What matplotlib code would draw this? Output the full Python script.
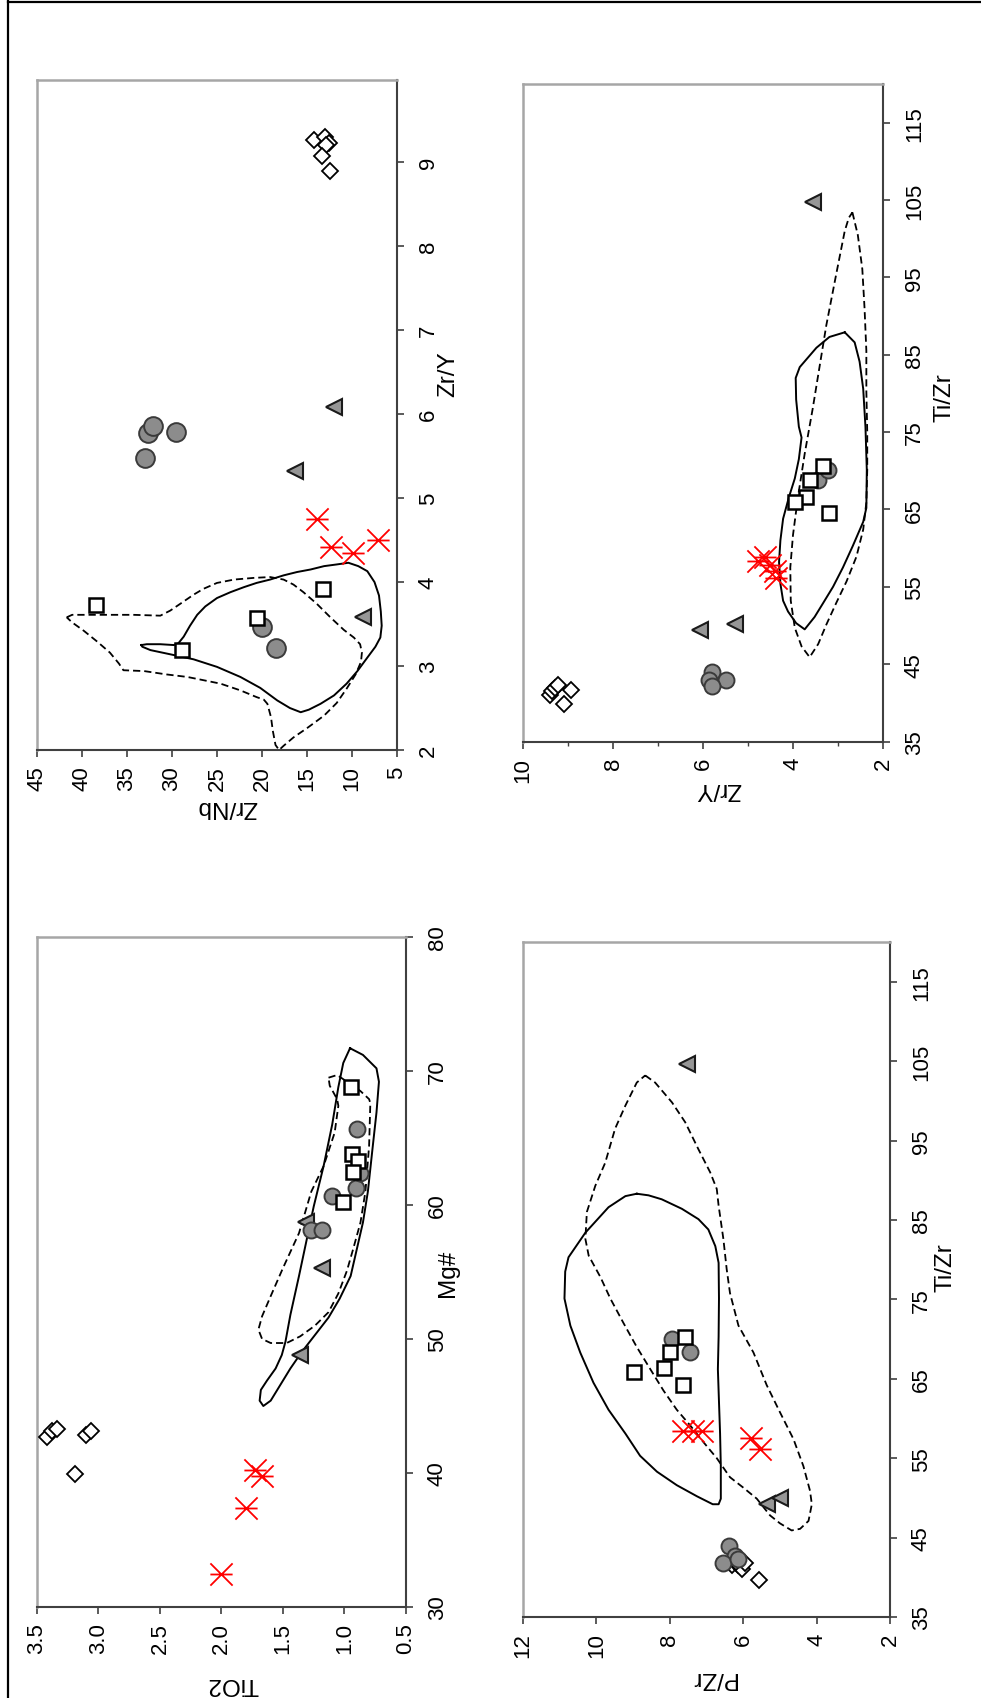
import matplotlib
matplotlib.use('Agg')
import matplotlib.pyplot as plt
from matplotlib.path import Path
from matplotlib.lines import Line2D

plt.rcParams['font.family'] = ['Liberation Sans Narrow', 'Liberation Sans', 'DejaVu Sans']

# ---------------- DATA ----------------
# Panel A : Zr/Nb vs Zr/Y
a_circ_zrnb = [33.0, 32.7, 32.1, 29.6, 20.0, 18.4]
a_circ_zry = [5.48, 5.77, 5.86, 5.79, 3.46, 3.21]
a_tri_zrnb = [12.0, 16.3, 8.8]
a_tri_zry = [6.08, 5.32, 3.58]
a_sq_zrnb = [38.4, 28.9, 20.6, 13.2]
a_sq_zry = [3.73, 3.19, 3.57, 3.92]
a_dia_zrnb = [14.2, 13.0, 12.6, 12.9, 13.3, 12.5]
a_dia_zry = [9.27, 9.30, 9.23, 9.20, 9.08, 8.90]
a_ast_zrnb = [13.9, 12.3, 9.9, 7.1]
a_ast_zry = [4.75, 4.42, 4.35, 4.50]
a_solid_zrnb = [33.4, 32.8, 31.3, 29.8, 29.3, 28.7, 28.0, 27.2, 26.3, 25.0, 23.5, 22.0, 20.6, 19.1,
                17.6, 16.1, 14.6, 13.1, 11.7, 10.4, 9.3, 8.3, 7.5, 7.0, 6.8, 6.7, 6.85, 7.4, 8.3,
                9.4, 10.6, 12.0, 13.5, 14.8, 15.7, 16.9, 18.3, 20.2, 22.4, 25.0, 27.6, 30.2, 32.4, 33.3]
a_solid_zry = [3.25, 3.26, 3.26, 3.25, 3.27, 3.35, 3.48, 3.61, 3.71, 3.81, 3.88, 3.94, 3.99, 4.03,
               4.08, 4.12, 4.15, 4.19, 4.21, 4.23, 4.19, 4.13, 4.00, 3.84, 3.65, 3.48, 3.34, 3.23, 3.10,
               2.94, 2.79, 2.65, 2.55, 2.48, 2.45, 2.50, 2.59, 2.74, 2.87, 2.99, 3.08, 3.14, 3.19, 3.23]
a_dash_zrnb = [41.7, 41.1, 38.0, 34.3, 31.3, 30.2, 29.1, 27.6, 26.5, 25.0, 23.1, 20.9, 19.1, 17.6,
               16.5, 15.4, 13.9, 12.4, 10.9, 9.8, 9.1, 8.9, 9.0, 9.6, 10.6, 11.7, 13.1, 15.0, 16.5,
               17.6, 18.1, 18.5, 18.8, 19.0, 19.4, 19.8, 20.6, 22.4, 24.6, 26.9, 28.3, 30.6, 33.1,
               35.4, 35.9, 36.9, 38.3, 39.8, 41.1]
a_dash_zry = [3.58, 3.61, 3.61, 3.61, 3.60, 3.66, 3.74, 3.85, 3.92, 3.99, 4.03, 4.05, 4.06, 4.03,
              3.97, 3.88, 3.74, 3.58, 3.43, 3.34, 3.26, 3.16, 3.05, 2.90, 2.73, 2.56, 2.41, 2.26, 2.15,
              2.05, 2.00, 2.06, 2.23, 2.39, 2.55, 2.60, 2.63, 2.71, 2.79, 2.84, 2.87, 2.90, 2.94,
              2.95, 3.03, 3.16, 3.29, 3.42, 3.52]

# Panel B : Zr/Y vs Ti/Zr
b_circ_zry = [5.79, 5.48, 5.87, 5.79, 3.44, 3.22]
b_circ_tizr = [44.0, 42.9, 42.9, 42.2, 68.8, 70.1]
b_tri_zry = [6.07, 5.30, 3.56]
b_tri_tizr = [49.4, 50.2, 104.7]
b_sq_zry = [3.19, 3.33, 3.63, 3.72, 3.96]
b_sq_tizr = [64.5, 70.6, 68.8, 66.6, 66.0]
b_dia_zry = [9.41, 9.35, 9.29, 9.22, 8.93, 9.10]
b_dia_tizr = [41.0, 41.5, 41.9, 42.3, 41.7, 39.8]
b_ast_zry = [4.78, 4.63, 4.52, 4.41, 4.37]
b_ast_tizr = [58.3, 58.9, 57.8, 57.1, 56.1]
b_solid_zry = [2.85, 2.63, 2.52, 2.44, 2.39, 2.36, 2.37, 2.44, 2.67, 2.89, 3.11, 3.33, 3.52, 3.74,
               3.93, 4.11, 4.22, 4.28, 4.31, 4.28, 4.22, 4.09, 3.96, 3.87, 3.81, 3.87, 3.93, 3.94,
               3.85, 3.48, 3.19]
b_solid_tizr = [87.9, 86.6, 84.1, 80.6, 75.7, 70.1, 65.2, 63.4, 60.3, 57.5, 55.0, 52.9, 51.1, 49.5,
                50.3, 51.8, 53.2, 55.4, 58.2, 61.0, 63.8, 66.6, 69.0, 71.5, 74.3, 75.7, 79.2, 82.0,
                83.4, 85.9, 87.3]
b_dash_zry = [2.68, 2.56, 2.46, 2.41, 2.37, 2.37, 2.35, 2.35, 2.37, 2.44, 2.59, 2.81, 3.04, 3.26,
              3.44, 3.63, 3.81, 3.96, 4.05, 4.06, 4.00, 3.89, 3.74, 3.56, 3.26, 3.04, 2.85, 2.76]
b_dash_tizr = [103.4, 100.5, 96.1, 91.0, 85.5, 80.3, 75.0, 70.1, 65.9, 62.4, 58.9, 55.7, 52.9, 50.1,
               47.6, 45.9, 47.3, 49.7, 53.2, 57.5, 61.7, 66.6, 72.2, 78.1, 88.8, 95.4, 101.0, 102.7]

# Panel C : TiO2 vs Mg#
c_circ_tio2 = [0.90, 1.10, 0.91, 0.87, 1.27, 1.18]
c_circ_mg = [65.7, 60.7, 61.3, 62.4, 58.1, 58.1]
c_tri_tio2 = [1.31, 1.18, 1.36]
c_tri_mg = [58.7, 55.3, 48.8]
c_sq_tio2 = [0.95, 0.94, 0.89, 0.93, 1.01]
c_sq_mg = [68.8, 63.8, 63.3, 62.5, 60.2]
c_dia_tio2 = [3.42, 3.38, 3.34, 3.10, 3.06, 3.19]
c_dia_mg = [42.7, 43.1, 43.3, 42.8, 43.1, 39.9]
c_ast_tio2 = [2.00, 1.80, 1.73, 1.67]
c_ast_mg = [32.5, 37.4, 40.2, 39.8]
c_solid_tio2 = [0.955, 0.85, 0.74, 0.72, 0.74, 0.77, 0.81, 0.85, 0.90, 0.95, 1.04, 1.13, 1.24, 1.35,
                1.44, 1.52, 1.60, 1.66, 1.69, 1.68, 1.63, 1.56, 1.51, 1.48, 1.44, 1.37, 1.31, 1.25,
                1.17, 1.10, 1.05, 1.01]
c_solid_mg = [71.7, 71.2, 70.2, 69.2, 66.9, 64.4, 61.0, 58.7, 56.7, 54.7, 53.0, 51.6, 50.3, 49.0,
              47.8, 46.6, 45.4, 45.0, 45.4, 46.2, 46.9, 47.8, 48.8, 49.8, 51.8, 54.7, 57.3, 59.9,
              62.9, 66.0, 68.8, 70.6]
c_dash_tio2 = [1.13, 1.06, 0.98, 0.87, 0.80, 0.79, 0.80, 0.83, 0.87, 0.93, 0.98, 1.05, 1.13, 1.24,
               1.36, 1.47, 1.60, 1.67, 1.70, 1.67, 1.60, 1.50, 1.37, 1.27, 1.17, 1.08, 1.05, 1.06, 1.12]
c_dash_mg = [69.5, 69.7, 69.2, 68.5, 67.9, 67.6, 64.4, 61.0, 58.7, 56.7, 55.1, 53.4, 52.0, 51.0,
             50.2, 49.7, 49.7, 50.0, 50.7, 51.7, 53.2, 55.3, 57.9, 61.0, 62.9, 65.4, 67.4, 67.9, 68.9]

# Panel D : P/Zr vs Ti/Zr
d_circ_pzr = [7.94, 7.46, 6.40, 6.22, 6.54, 6.15]
d_circ_tizr = [70.0, 68.4, 43.9, 42.7, 41.8, 42.3]
d_tri_pzr = [7.54, 5.34, 5.00]
d_tri_tizr = [104.6, 49.2, 50.0]
d_sq_pzr = [8.97, 8.15, 7.99, 7.58, 7.64]
d_sq_tizr = [65.9, 66.4, 68.4, 70.3, 64.2]
d_dia_pzr = [6.31, 6.13, 6.04, 5.95, 6.20, 5.56]
d_dia_tizr = [41.5, 41.5, 41.1, 41.8, 41.9, 39.6]
d_ast_pzr = [7.64, 7.37, 7.13, 5.78, 5.54]
d_ast_tizr = [58.4, 58.4, 58.4, 57.6, 56.1]
d_solid_pzr = [8.90, 8.58, 8.22, 7.67, 7.22, 6.95, 6.76, 6.67, 6.66, 6.67, 6.69, 6.66, 6.63, 6.61,
               6.61, 6.67, 6.83, 7.26, 7.81, 8.35, 8.81, 9.21, 9.67, 10.08, 10.44, 10.71, 10.87,
               10.85, 10.76, 10.30, 9.67, 9.21]
d_solid_tizr = [88.3, 88.1, 87.6, 86.4, 85.1, 83.8, 81.7, 79.6, 75.1, 70.3, 66.2, 62.1, 58.1, 54.0,
                49.9, 49.2, 49.2, 50.2, 51.6, 53.3, 55.3, 58.1, 61.1, 64.5, 68.3, 71.7, 75.1,
                78.5, 80.3, 83.4, 86.6, 88.0]
d_dash_pzr = [8.67, 8.40, 7.94, 7.58, 7.22, 6.90, 6.72, 6.67, 6.54, 6.45, 6.36, 6.13, 5.72, 5.36,
              5.00, 4.63, 4.36, 4.18, 4.13, 4.22, 4.45, 4.68, 5.00, 5.27, 5.63, 6.00, 6.36, 6.72,
              7.08, 7.44, 7.81, 8.17, 8.53, 8.90, 9.26, 9.62, 9.89, 10.21, 10.30, 10.26, 10.03,
              9.76, 9.49, 9.21, 8.90]
d_dash_tizr = [103.2, 102.3, 99.8, 97.3, 93.9, 91.0, 88.9, 86.8, 82.6, 78.8, 75.8, 71.7, 68.3, 64.2,
               60.8, 57.4, 54.0, 50.9, 49.2, 47.1, 46.1, 45.9, 46.8, 47.8, 49.9, 51.3, 52.6, 55.0,
               57.0, 59.1, 61.1, 63.5, 66.2, 69.0, 72.0, 75.1, 77.8, 80.5, 82.6, 86.0, 89.3,
               92.2, 96.5, 99.4, 102.3]

# tick labels
zrnb_ticks = [45, 40, 35, 30, 25, 20, 15, 10, 5]
zry_ticks_a = [2, 3, 4, 5, 6, 7, 8, 9]
zry_ticks_b = [10, 8, 6, 4, 2]
tizr_ticks = [35, 45, 55, 65, 75, 85, 95, 105, 115]
tio2_ticks = [3.5, 3.0, 2.5, 2.0, 1.5, 1.0, 0.5]
mg_ticks = [30, 40, 50, 60, 70, 80]
pzr_ticks = [12, 10, 8, 6, 4, 2]

# ---------------- FIGURE ----------------
W, H = 981, 1699
fig = plt.figure(figsize=(W / 100, H / 100), dpi=100)
fig.patch.set_facecolor('white')

def px_axes(x0, y0, x1, y1):
    return fig.add_axes([x0 / W, 1 - y1 / H, (x1 - x0) / W, (y1 - y0) / H])

ast_path = Path([(-0.5, -0.5), (0.5, 0.5), (-0.5, 0.5), (0.5, -0.5), (-0.5, 0.0), (0.5, 0.0)],
                [Path.MOVETO, Path.LINETO, Path.MOVETO, Path.LINETO, Path.MOVETO, Path.LINETO])

TICK_FS = 16
LAB_FS = 17.5
DARK = '#404040'

def style(ax, xlim, ylim, xt, xl, yt, yl, xlabel, ylabel, xlc, ylc, xminor=None):
    ax.set_xlim(*xlim)
    ax.set_ylim(*ylim)
    ax.yaxis.tick_right()
    ax.yaxis.set_label_position('right')
    ax.set_xticks(xt)
    ax.set_xticklabels(xl, rotation=90, ha='center', va='top', fontsize=TICK_FS)
    ax.set_yticks(yt)
    ax.set_yticklabels(yl, rotation=90, ha='left', va='center', fontsize=TICK_FS)
    if xminor is not None:
        ax.set_xticks(xminor, minor=True)
    ax.tick_params(axis='both', which='major', direction='out', length=5, width=1.2, color=DARK)
    ax.tick_params(axis='x', which='minor', direction='out', length=3, width=1.0, color=DARK)
    ax.tick_params(axis='x', pad=6)
    ax.tick_params(axis='y', pad=10)
    for s in ['bottom', 'right']:
        ax.spines[s].set_color(DARK)
        ax.spines[s].set_linewidth(1.5)
    for s in ['top', 'left']:
        ax.spines[s].set_color('#a6a6a6')
        ax.spines[s].set_linewidth(1.8)
    ax.set_xlabel(xlabel, rotation=180, ha='center', va='center', fontsize=LAB_FS)
    ax.xaxis.set_label_coords(*xlc)
    ax.set_ylabel(ylabel, rotation=90, ha='center', va='center', fontsize=LAB_FS)
    ax.yaxis.set_label_coords(*ylc)

def contours(ax, sx, sy, dx, dy):
    ax.plot(list(sx) + [sx[0]], list(sy) + [sy[0]], color='black', lw=1.4, zorder=2)
    ax.plot(list(dx) + [dx[0]], list(dy) + [dy[0]], color='black', lw=1.3,
            linestyle=(0, (4, 2.2)), zorder=2)

def points(ax, dia, ast, tri, circ, sq, circ_ms=11.5):
    ax.plot(*dia, linestyle='none', marker='D', ms=8, mfc='white', mec='black', mew=1.3, zorder=3)
    ax.plot(*ast, linestyle='none', marker=ast_path, ms=16, mfc='none', mec='#ff0000', mew=1.3, zorder=4)
    ax.plot(*tri, linestyle='none', marker='<', ms=12, mfc='#969696', mec='#1a1a1a', mew=1.5, zorder=5)
    ax.plot(*circ, linestyle='none', marker='o', ms=circ_ms, mfc='#8c8c8c', mec='#3a3a3a', mew=1.4, zorder=6)
    ax.plot(*sq, linestyle='none', marker='s', ms=10, mfc='white', mec='black', mew=1.8, zorder=7)

# Panel A (display top-left)
axA = px_axes(37, 81, 397, 751)
contours(axA, a_solid_zrnb, a_solid_zry, a_dash_zrnb, a_dash_zry)
points(axA, (a_dia_zrnb, a_dia_zry), (a_ast_zrnb, a_ast_zry), (a_tri_zrnb, a_tri_zry),
       (a_circ_zrnb, a_circ_zry), (a_sq_zrnb, a_sq_zry), circ_ms=13.5)
style(axA, (45, 5), (2, 9.98), zrnb_ticks, [str(v) for v in zrnb_ticks],
      zry_ticks_a, [str(v) for v in zry_ticks_a], 'Zr/Nb', 'Zr/Y',
      (0.528, -0.083), (1.142, 0.563))

# Panel B (display top-right)
axB = px_axes(523, 85, 883, 742.5)
contours(axB, b_solid_zry, b_solid_tizr, b_dash_zry, b_dash_tizr)
points(axB, (b_dia_zry, b_dia_tizr), (b_ast_zry, b_ast_tizr), (b_tri_zry, b_tri_tizr),
       (b_circ_zry, b_circ_tizr), (b_sq_zry, b_sq_tizr))
style(axB, (10, 2), (35, 120), zry_ticks_b, [str(v) for v in zry_ticks_b],
      tizr_ticks, [str(v) for v in tizr_ticks], 'Zr/Y', 'Ti/Zr',
      (0.542, -0.07), (1.172, 0.524), xminor=[9, 7, 5, 3])

# Panel C (display bottom-left)
axC = px_axes(37, 938, 406, 1608)
contours(axC, c_solid_tio2, c_solid_mg, c_dash_tio2, c_dash_mg)
points(axC, (c_dia_tio2, c_dia_mg), (c_ast_tio2, c_ast_mg), (c_tri_tio2, c_tri_mg),
       (c_circ_tio2, c_circ_mg), (c_sq_tio2, c_sq_mg))
style(axC, (3.5, 0.5), (30, 80), tio2_ticks, ['%.1f' % v for v in tio2_ticks],
      mg_ticks, [str(v) for v in mg_ticks], 'TiO2', 'Mg#',
      (0.531, -0.113), (1.114, 0.499))

# Panel D (display bottom-right)
axD = px_axes(523, 943, 890, 1618)
contours(axD, d_solid_pzr, d_solid_tizr, d_dash_pzr, d_dash_tizr)
points(axD, (d_dia_pzr, d_dia_tizr), (d_ast_pzr, d_ast_tizr), (d_tri_pzr, d_tri_tizr),
       (d_circ_pzr, d_circ_tizr), (d_sq_pzr, d_sq_tizr))
style(axD, (12, 2), (35, 120), pzr_ticks, [str(v) for v in pzr_ticks],
      tizr_ticks, [str(v) for v in tizr_ticks], 'P/Zr', 'Ti/Zr',
      (0.518, -0.089), (1.150, 0.519))

# outer frame lines (left and top)
fig.add_artist(Line2D([7.5 / W, 7.5 / W], [0, 1], transform=fig.transFigure, color='black', lw=1.6))
fig.add_artist(Line2D([7.5 / W, 1], [1 - 2.5 / H, 1 - 2.5 / H], transform=fig.transFigure, color='black', lw=1.6))

fig.savefig('out.png', dpi=100, facecolor='white')
